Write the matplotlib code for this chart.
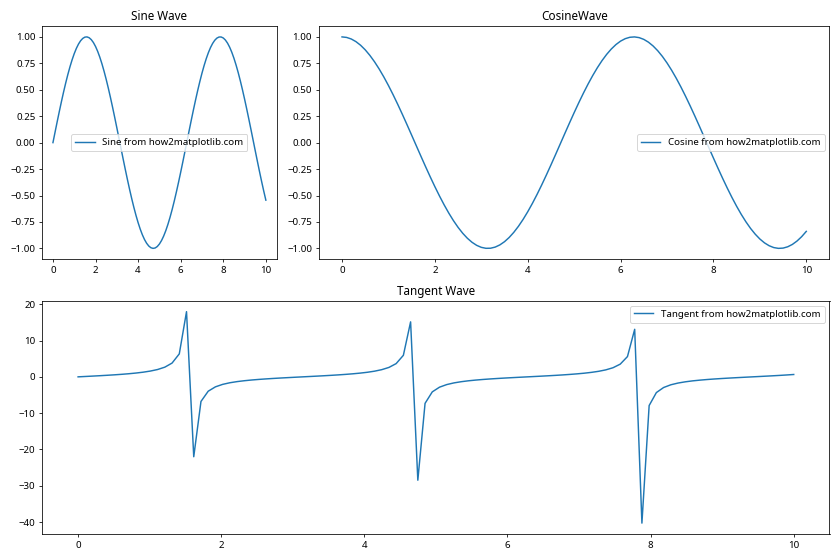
import matplotlib
matplotlib.use('Agg')
import matplotlib.pyplot as plt
import numpy as np

plt.rcParams['font.family'] = ['Noto Sans', 'DejaVu Sans']

# sine / cosine sampled every 0.1
x_sc = np.linspace(0, 10, 101)
sine = [0.0000, 0.0998, 0.1987, 0.2955, 0.3894, 0.4794, 0.5646, 0.6442, 0.7174, 0.7833,
        0.8415, 0.8912, 0.9320, 0.9636, 0.9854, 0.9975, 0.9996, 0.9917, 0.9738, 0.9463,
        0.9093, 0.8632, 0.8085, 0.7457, 0.6755, 0.5985, 0.5155, 0.4274, 0.3350, 0.2392,
        0.1411, 0.0416, -0.0584, -0.1577, -0.2555, -0.3508, -0.4425, -0.5298, -0.6119, -0.6878,
        -0.7568, -0.8183, -0.8716, -0.9162, -0.9516, -0.9775, -0.9937, -0.9999, -0.9962, -0.9825,
        -0.9589, -0.9258, -0.8835, -0.8323, -0.7728, -0.7055, -0.6313, -0.5507, -0.4646, -0.3739,
        -0.2794, -0.1822, -0.0831, 0.0168, 0.1165, 0.2151, 0.3115, 0.4048, 0.4941, 0.5784,
        0.6570, 0.7290, 0.7937, 0.8504, 0.8987, 0.9380, 0.9679, 0.9882, 0.9985, 0.9989,
        0.9894, 0.9699, 0.9407, 0.9022, 0.8546, 0.7985, 0.7344, 0.6630, 0.5849, 0.5010,
        0.4121, 0.3191, 0.2229, 0.1245, 0.0248, -0.0752, -0.1743, -0.2718, -0.3665, -0.4575,
        -0.5440]
cosine = [1.0000, 0.9950, 0.9801, 0.9553, 0.9211, 0.8776, 0.8253, 0.7648, 0.6967, 0.6216,
          0.5403, 0.4536, 0.3624, 0.2675, 0.1700, 0.0707, -0.0292, -0.1288, -0.2272, -0.3233,
          -0.4161, -0.5048, -0.5885, -0.6663, -0.7374, -0.8011, -0.8569, -0.9041, -0.9422, -0.9710,
          -0.9900, -0.9991, -0.9983, -0.9875, -0.9668, -0.9365, -0.8968, -0.8481, -0.7910, -0.7259,
          -0.6536, -0.5748, -0.4903, -0.4008, -0.3073, -0.2108, -0.1122, -0.0124, 0.0875, 0.1865,
          0.2837, 0.3780, 0.4685, 0.5544, 0.6347, 0.7087, 0.7756, 0.8347, 0.8855, 0.9275,
          0.9602, 0.9833, 0.9965, 0.9999, 0.9932, 0.9766, 0.9502, 0.9144, 0.8694, 0.8157,
          0.7539, 0.6845, 0.6084, 0.5261, 0.4385, 0.3466, 0.2513, 0.1534, 0.0540, -0.0460,
          -0.1455, -0.2435, -0.3392, -0.4314, -0.5193, -0.6020, -0.6787, -0.7486, -0.8111, -0.8654,
          -0.9111, -0.9477, -0.9748, -0.9922, -0.9997, -0.9972, -0.9847, -0.9624, -0.9304, -0.8892,
          -0.8391]

# tangent sampled at 100 points over 0..10
x_tan = np.linspace(0, 10, 100)
tangent = [0.000, 0.101, 0.205, 0.313, 0.428, 0.553, 0.693, 0.854, 1.046, 1.284,
           1.594, 2.020, 2.668, 3.795, 6.329, 17.96, -22.01, -6.78, -3.959, -2.753,
           -2.072, -1.626, -1.310, -1.068, -0.871, -0.709, -0.567, -0.440, -0.324, -0.216,
           -0.112, -0.010, 0.091, 0.194, 0.301, 0.416, 0.540, 0.679, 0.838, 1.024,
           1.255, 1.557, 1.975, 2.594, 3.648, 5.935, 15.15, -28.48, -7.30, -4.137,
           -2.845, -2.128, -1.667, -1.340, -1.088, -0.891, -0.724, -0.580, -0.452, -0.335,
           -0.226, -0.122, -0.021, 0.081, 0.183, 0.290, 0.403, 0.526, 0.664, 0.820,
           1.002, 1.232, 1.521, 1.920, 2.510, 3.501, 5.583, 13.10, -40.3, -7.906,
           -4.333, -2.940, -2.187, -1.708, -1.370, -1.111, -0.911, -0.740, -0.593, -0.465,
           -0.347, -0.237, -0.133, -0.031, 0.070, 0.173, 0.279, 0.391, 0.514, 0.648]

fig = plt.figure(figsize=(12, 8), dpi=70)
ax1 = plt.subplot2grid((2, 3), (0, 0))
ax2 = plt.subplot2grid((2, 3), (0, 1), colspan=2)
ax3 = plt.subplot2grid((2, 3), (1, 0), colspan=3)

ax1.plot(x_sc, sine, label='Sine from how2matplotlib.com')
ax1.set_title('Sine Wave')
ax1.legend(loc='center')

ax2.plot(x_sc, cosine, label='Cosine from how2matplotlib.com')
ax2.set_title('CosineWave')
ax2.legend(loc='center right')

ax3.plot(x_tan, tangent, label='Tangent from how2matplotlib.com')
ax3.set_title('Tangent Wave')
ax3.legend(loc='upper right')

plt.tight_layout()
plt.savefig('out.png')
